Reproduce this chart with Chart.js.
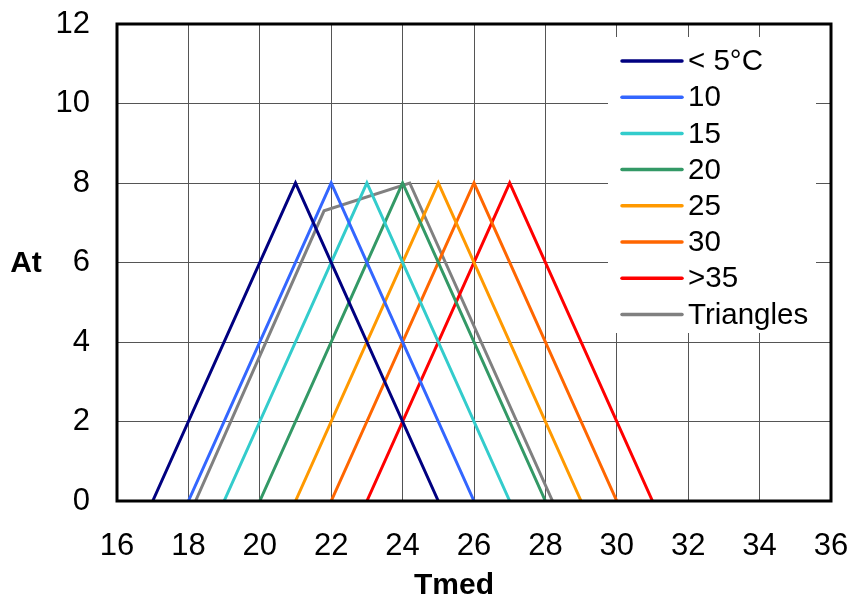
<!DOCTYPE html>
<html>
<head>
<meta charset="utf-8">
<script src="https://cdn.jsdelivr.net/npm/chart.js@4.4.1/dist/chart.umd.min.js"></script>
<style>
    body { margin: 0; background: #fff; }
    canvas { display: block; }
</style>
</head>
<body>
<canvas id="chartAt" width="851" height="595"></canvas>
<script>
const xTicks = [16, 18, 20, 22, 24, 26, 28, 30, 32, 34, 36];
const yTicks = [0, 2, 4, 6, 8, 10, 12];

const seriesLabels = ["< 5°C", "10", "15", "20", "25", "30", ">35", "Triangles"];

// Tmed / At points of each triangle
const tmedLt5 = [17, 21, 25];
const atLt5 = [0, 8, 0];
const tmed10 = [18, 22, 26];
const at10 = [0, 8, 0];
const tmed15 = [19, 23, 27];
const at15 = [0, 8, 0];
const tmed20 = [20, 24, 28];
const at20 = [0, 8, 0];
const tmed25 = [21, 25, 29];
const at25 = [0, 8, 0];
const tmed30 = [22, 26, 30];
const at30 = [0, 8, 0];
const tmedGt35 = [23, 27, 31];
const atGt35 = [0, 8, 0];
const tmedTriangles = [18.2, 21.8, 24.2, 28.2];
const atTriangles = [0, 7.3, 8, 0];

const seriesTmed = [tmedLt5, tmed10, tmed15, tmed20, tmed25, tmed30, tmedGt35, tmedTriangles];
const seriesAt = [atLt5, at10, at15, at20, at25, at30, atGt35, atTriangles];

const seriesColors = ["#000080", "#3366FF", "#33CCCC", "#339966", "#FF9900", "#FF6600", "#FF0000", "#808080"];

const FONT = "'Liberation Sans', Arial, sans-serif";

const datasets = seriesLabels.map((label, i) => ({
    label: label,
    data: seriesTmed[i].map((x, j) => ({ x: x, y: seriesAt[i][j] })),
    showLine: true,
    fill: false,
    borderColor: seriesColors[i],
    backgroundColor: seriesColors[i],
    borderWidth: 3,
    pointRadius: 0,
    tension: 0,
}));

// frame, legend box and axis titles, drawn like the Excel original
const framePlugin = {
    id: "frame",
    afterDatasetsDraw(chart) {
        const ctx = chart.ctx;
        const area = chart.chartArea;
        ctx.save();
        ctx.strokeStyle = "#000";
        ctx.lineWidth = 3;
        ctx.strokeRect(area.left, area.top, area.right - area.left, area.bottom - area.top);
        ctx.restore();
    },
    afterDraw(chart) {
        const ctx = chart.ctx;
        const area = chart.chartArea;
        ctx.save();

        // legend
        const boxRight = area.right - 15;
        const boxLeft = boxRight - 208;
        const boxTop = area.top + 13;
        ctx.fillStyle = "#fff";
        ctx.fillRect(boxLeft, boxTop, 208, 296);
        ctx.font = "29.5px " + FONT;
        ctx.textBaseline = "middle";
        ctx.textAlign = "left";
        chart.data.datasets.forEach((ds, i) => {
            const y = boxTop + 24 + i * 36.2;
            ctx.strokeStyle = ds.borderColor;
            ctx.lineWidth = 3.5;
            ctx.lineCap = "round";
            ctx.beginPath();
            ctx.moveTo(boxLeft + 14, y);
            ctx.lineTo(boxLeft + 74, y);
            ctx.stroke();
            ctx.fillStyle = "#000";
            ctx.fillText(ds.label, boxLeft + 80, y + 1);
        });

        // axis titles
        ctx.font = "bold 30px " + FONT;
        ctx.fillStyle = "#000";
        ctx.textAlign = "center";
        ctx.textBaseline = "alphabetic";
        ctx.fillText("At", 26, (area.top + area.bottom) / 2 + 9);
        ctx.fillText("Tmed", (area.left + area.right) / 2 - 20, 594);
        ctx.restore();
    },
};

const chartElement = document.getElementById("chartAt");
chartElement.chart = new Chart(chartElement, {
    type: "scatter",
    data: { datasets: datasets },
    options: {
        responsive: false,
        animation: false,
        layout: { padding: { top: 24, right: 20, bottom: 0, left: 0 } },
        plugins: {
            legend: { display: false },
            tooltip: { enabled: false },
        },
        scales: {
            x: {
                type: "linear",
                min: xTicks[0],
                max: xTicks[xTicks.length - 1],
                afterBuildTicks: (scale) => { scale.ticks = xTicks.map((v) => ({ value: v })); },
                afterFit: (scale) => {
                    scale.height = 94;
                    scale.paddingLeft = 0;
                    scale.paddingRight = 0;
                },
                grid: { color: "#555", lineWidth: 1, drawTicks: false },
                border: { display: false },
                ticks: { color: "#000", padding: 27, font: { family: FONT, size: 31 }, maxRotation: 0 },
            },
            y: {
                type: "linear",
                min: yTicks[0],
                max: yTicks[yTicks.length - 1],
                afterBuildTicks: (scale) => { scale.ticks = yTicks.map((v) => ({ value: v })); },
                afterFit: (scale) => {
                    scale.width = 117;
                    scale.paddingTop = 0;
                    scale.paddingBottom = 0;
                },
                grid: { color: "#555", lineWidth: 1, drawTicks: false },
                border: { display: false },
                ticks: { color: "#000", padding: 27, font: { family: FONT, size: 31 } },
            },
        },
    },
    plugins: [framePlugin],
});
</script>
</body>
</html>
